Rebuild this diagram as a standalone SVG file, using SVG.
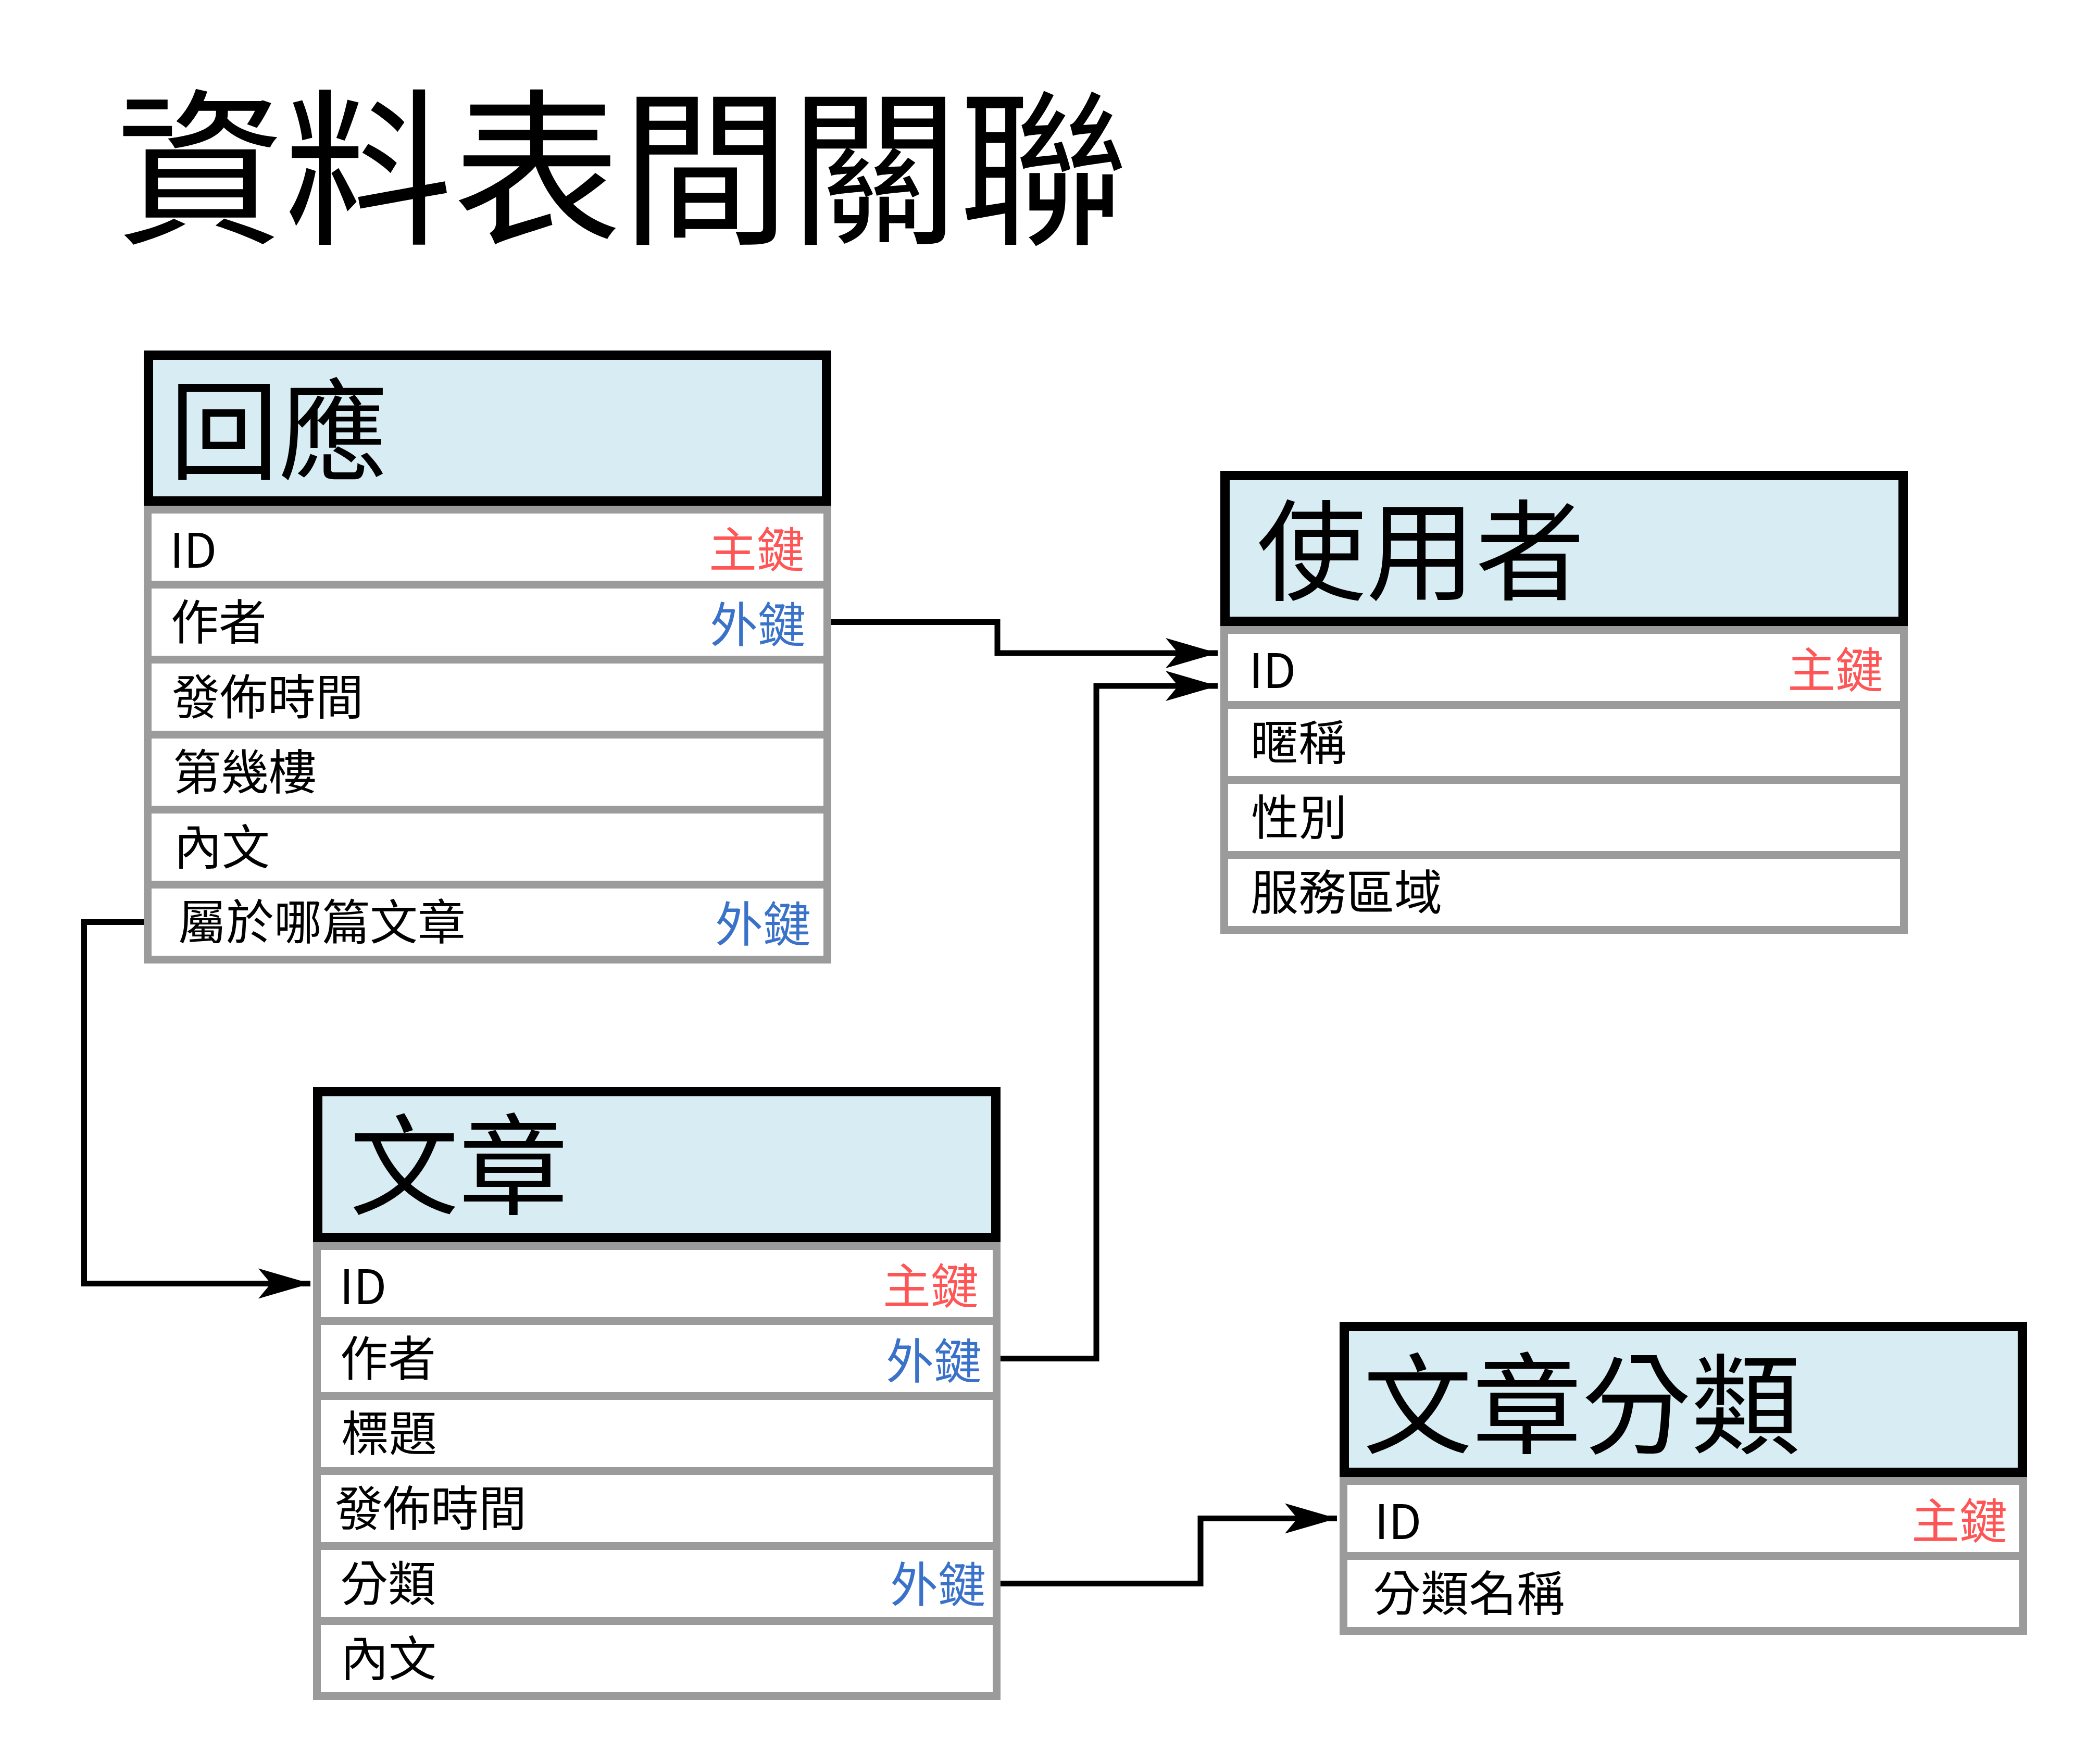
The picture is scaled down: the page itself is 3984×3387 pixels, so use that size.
<svg xmlns="http://www.w3.org/2000/svg" width="3984" height="3387" viewBox="0 0 3984 3387">
<style>
text{font-family:"Noto Sans CJK TC","Noto Sans CJK SC",sans-serif;}
.title{font-size:324px;fill:#000;}
.head{fill:#d8edf3;stroke:#000;stroke-width:18;}
.htxt{font-size:210px;fill:#000;}
.row{fill:#fff;stroke:#9b9b9b;stroke-width:15;}
.rtxt{font-size:92px;fill:#000;}
.pk{font-size:92px;fill:#fe5656;text-anchor:end;}
.fk{font-size:92px;fill:#3a72c9;text-anchor:end;}
.conn{fill:none;stroke:#000;stroke-width:11;}
</style>
<defs>
<marker id="arrow" markerUnits="userSpaceOnUse" viewBox="0 0 100 60" markerWidth="100" markerHeight="60" refX="100" refY="30" orient="auto" overflow="visible">
<path d="M0,1 L100,30 L0,59 L24,30 Z" fill="#000"/>
</marker>
</defs>
<rect width="3984" height="3387" fill="#fff"/>
<text class="title" x="221" y="444">資料表間關聯</text>

<g id="connectors">
<path class="conn" d="M1596,1194.5 H1915 V1254 H2338" marker-end="url(#arrow)"/>
<path class="conn" d="M1921,2608.5 H2105 V1317 H2338" marker-end="url(#arrow)"/>
<path class="conn" d="M276,1770.5 H161.5 V2464.5 H596" marker-end="url(#arrow)"/>
<path class="conn" d="M1921,3040.5 H2305 V2915.5 H2567" marker-end="url(#arrow)"/>
</g>

<g id="table-reply">
<rect class="head" x="285" y="682" width="1302" height="280"/>
<text class="htxt" x="325" y="905">回應</text>
<rect class="row" x="283.5" y="978.5" width="1305" height="144"/>
<rect class="row" x="283.5" y="1122.5" width="1305" height="144"/>
<rect class="row" x="283.5" y="1266.5" width="1305" height="144"/>
<rect class="row" x="283.5" y="1410.5" width="1305" height="144"/>
<rect class="row" x="283.5" y="1554.5" width="1305" height="144"/>
<rect class="row" x="283.5" y="1698.5" width="1305" height="144"/>
<text class="rtxt" x="326" y="1090">ID</text>
<text class="pk" x="1545" y="1089">主鍵</text>
<text class="rtxt" x="328" y="1228">作者</text>
<text class="fk" x="1547" y="1233">外鍵</text>
<text class="rtxt" x="330" y="1372">發佈時間</text>
<text class="rtxt" x="332" y="1516">第幾樓</text>
<text class="rtxt" x="334" y="1660">內文</text>
<text class="rtxt" x="342" y="1804">屬於哪篇文章</text>
<text class="fk" x="1557" y="1808">外鍵</text>
</g>

<g id="table-user">
<rect class="head" x="2352" y="913" width="1302" height="280"/>
<text class="htxt" x="2413" y="1136">使用者</text>
<rect class="row" x="2350.5" y="1209.5" width="1305" height="144"/>
<rect class="row" x="2350.5" y="1353.5" width="1305" height="144"/>
<rect class="row" x="2350.5" y="1497.5" width="1305" height="144"/>
<rect class="row" x="2350.5" y="1641.5" width="1305" height="144"/>
<text class="rtxt" x="2398" y="1321">ID</text>
<text class="pk" x="3616" y="1320">主鍵</text>
<text class="rtxt" x="2401" y="1459">暱稱</text>
<text class="rtxt" x="2402" y="1603">性別</text>
<text class="rtxt" x="2401" y="1747">服務區域</text>
</g>

<g id="table-article">
<rect class="head" x="610" y="2096" width="1302" height="280"/>
<text class="htxt" x="671" y="2316">文章</text>
<rect class="row" x="608.5" y="2392.5" width="1305" height="144"/>
<rect class="row" x="608.5" y="2536.5" width="1305" height="144"/>
<rect class="row" x="608.5" y="2680.5" width="1305" height="144"/>
<rect class="row" x="608.5" y="2824.5" width="1305" height="144"/>
<rect class="row" x="608.5" y="2968.5" width="1305" height="144"/>
<rect class="row" x="608.5" y="3112.5" width="1305" height="144"/>
<text class="rtxt" x="652" y="2504">ID</text>
<text class="pk" x="1879" y="2503">主鍵</text>
<text class="rtxt" x="653" y="2642">作者</text>
<text class="fk" x="1885" y="2647">外鍵</text>
<text class="rtxt" x="655" y="2786">標題</text>
<text class="rtxt" x="643" y="2930">發佈時間</text>
<text class="rtxt" x="653" y="3074">分類</text>
<text class="fk" x="1893" y="3076">外鍵</text>
<text class="rtxt" x="654" y="3218">內文</text>
</g>

<g id="table-category">
<rect class="head" x="2581" y="2547" width="1302" height="280"/>
<text class="htxt" x="2617" y="2775">文章分類</text>
<rect class="row" x="2579.5" y="2843.5" width="1305" height="144"/>
<rect class="row" x="2579.5" y="2987.5" width="1305" height="144"/>
<text class="rtxt" x="2639" y="2955">ID</text>
<text class="pk" x="3854" y="2954">主鍵</text>
<text class="rtxt" x="2636" y="3093">分類名稱</text>
</g>
</svg>
